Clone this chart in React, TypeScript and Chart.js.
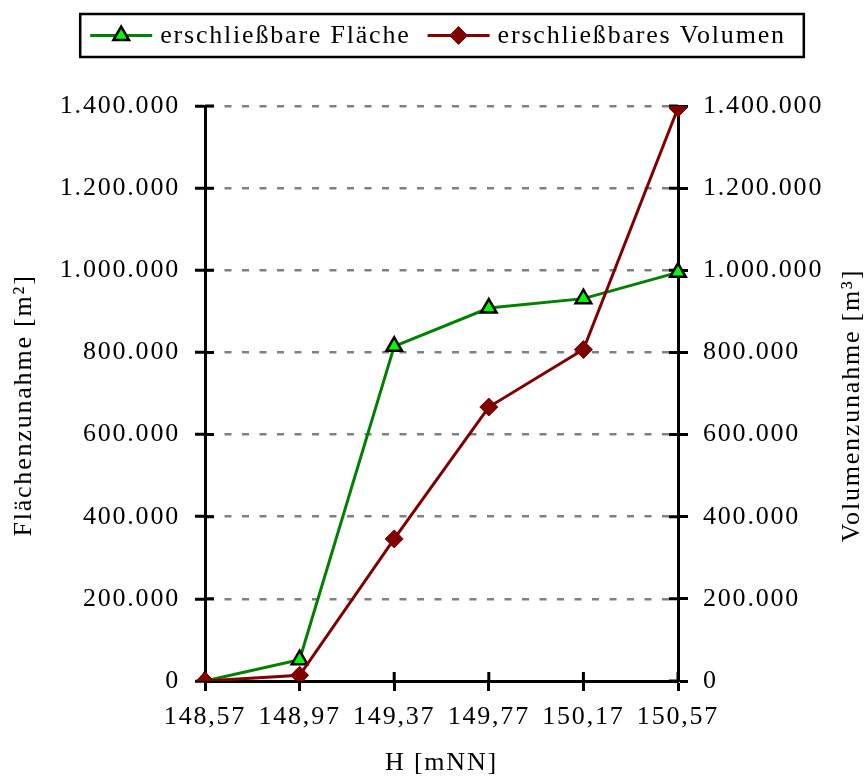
import React, { useEffect, useRef } from "react";
import { Chart, registerables } from "chart.js";

Chart.register(...registerables);

const categories = ["148,57", "148,97", "149,37", "149,77", "150,17", "150,57"];
const flaecheValues = [0, 52000, 815000, 908000, 931000, 995000];
const volumenValues = [0, 14000, 346000, 667000, 807000, 1395000];
const yTickValues = [0, 200000, 400000, 600000, 800000, 1000000, 1200000, 1400000];

const FLAECHE_LABEL = "erschließbare Fläche";
const VOLUMEN_LABEL = "erschließbares Volumen";
const LEFT_TITLE = "Flächenzunahme [m²]";
const RIGHT_TITLE = "Volumenzunahme [m³]";
const X_TITLE = "H [mNN]";

const FONT = "'Liberation Serif', 'Times New Roman', serif";
const LS = "1.8px";

const fmt = (v: number) =>
  String(Math.round(v)).replace(/\B(?=(\d{3})+(?!\d))/g, ".");

const spacingPlugin = {
  id: "spacing",
  beforeInit(chart: any) {
    chart.ctx.letterSpacing = LS;
  },
  beforeUpdate(chart: any) {
    chart.ctx.letterSpacing = LS;
  },
  beforeLayout(chart: any) {
    chart.ctx.letterSpacing = LS;
  },
  beforeDraw(chart: any) {
    chart.ctx.letterSpacing = LS;
  },
};

const innerTicksPlugin = {
  id: "innerTicks",
  beforeDatasetsDraw(chart: any) {
    const { ctx, chartArea } = chart;
    const y = chart.scales.y;
    const x = chart.scales.x;
    const len = 9;
    ctx.save();
    ctx.strokeStyle = "#000";
    ctx.lineWidth = 3;
    ctx.setLineDash([]);
    ctx.beginPath();
    y.ticks.forEach((t: any) => {
      const py = y.getPixelForValue(t.value);
      ctx.moveTo(chartArea.left, py);
      ctx.lineTo(chartArea.left + len, py);
      ctx.moveTo(chartArea.right - len, py);
      ctx.lineTo(chartArea.right, py);
    });
    x.ticks.forEach((_t: any, i: number) => {
      const px = x.getPixelForTick(i);
      ctx.moveTo(px, chartArea.bottom - len);
      ctx.lineTo(px, chartArea.bottom);
    });
    ctx.stroke();
    ctx.restore();
  },
};

function drawMarker(ctx: CanvasRenderingContext2D, style: string, x: number, y: number, r: number) {
  ctx.beginPath();
  if (style === "triangle") {
    let rad = 0;
    ctx.moveTo(x + Math.sin(rad) * r, y - Math.cos(rad) * r);
    rad += (2 * Math.PI) / 3;
    ctx.lineTo(x + Math.sin(rad) * r, y - Math.cos(rad) * r);
    rad += (2 * Math.PI) / 3;
    ctx.lineTo(x + Math.sin(rad) * r, y - Math.cos(rad) * r);
    ctx.closePath();
  } else {
    ctx.moveTo(x, y - r);
    ctx.lineTo(x + r, y);
    ctx.lineTo(x, y + r);
    ctx.lineTo(x - r, y);
    ctx.closePath();
  }
  ctx.fill();
  ctx.stroke();
}

const legendTitlePlugin = {
  id: "customLegend",
  afterDraw(chart: any) {
    const { ctx, chartArea } = chart;
    ctx.save();
    ctx.letterSpacing = LS;
    ctx.font = `26px ${FONT}`;
    ctx.fillStyle = "#000";

    // vertical axis titles (both read bottom to top)
    const cy = (chartArea.top + chartArea.bottom) / 2 + 12;
    [
      { text: LEFT_TITLE, x: 24 },
      { text: RIGHT_TITLE, x: 852 },
    ].forEach((t) => {
      ctx.save();
      ctx.translate(t.x, cy);
      ctx.rotate(-Math.PI / 2);
      ctx.textAlign = "center";
      ctx.textBaseline = "middle";
      ctx.fillText(t.text, 0, 0);
      ctx.restore();
    });

    // legend
    const items = chart.data.datasets
      .map((d: any) => d)
      .sort((a: any, b: any) => a.legendIndex - b.legendIndex);
    const lineLen = 62;
    const gapText = 8;
    const gapItem = 17;
    const padL = 10;
    const padR = 18;
    const widths = items.map((d: any) => ctx.measureText(d.label).width);
    let total = padL + padR;
    items.forEach((_d: any, i: number) => {
      total += lineLen + gapText + widths[i];
      if (i < items.length - 1) total += gapItem;
    });
    const centerX = (chartArea.left + chartArea.right) / 2 + 0.5;
    const left = centerX - total / 2;
    const top = 14;
    const h = 43;
    ctx.lineWidth = 2.5;
    ctx.strokeStyle = "#000";
    ctx.strokeRect(left, top, total, h);
    const my = top + h / 2;
    let cx = left + padL;
    items.forEach((d: any, i: number) => {
      ctx.beginPath();
      ctx.strokeStyle = d.borderColor;
      ctx.lineWidth = d.borderWidth;
      ctx.moveTo(cx, my);
      ctx.lineTo(cx + lineLen, my);
      ctx.stroke();
      ctx.fillStyle = d.pointBackgroundColor;
      ctx.strokeStyle = d.pointBorderColor;
      ctx.lineWidth = d.pointBorderWidth;
      drawMarker(ctx, d.pointStyle, cx + lineLen / 2, my, d.pointRadius);
      cx += lineLen + gapText;
      ctx.fillStyle = "#000";
      ctx.textAlign = "left";
      ctx.textBaseline = "middle";
      ctx.fillText(d.label, cx, my + 1);
      cx += widths[i] + gapItem;
    });
    ctx.restore();
  },
};

export default function App() {
  const ref = useRef<HTMLCanvasElement | null>(null);

  useEffect(() => {
    if (!ref.current) return;
    Chart.defaults.font.family = FONT;
    Chart.defaults.font.size = 26;
    Chart.defaults.color = "#000";

    const chart = new Chart(ref.current, {
      type: "line",
      data: {
        labels: categories,
        datasets: [
          {
            label: FLAECHE_LABEL,
            data: flaecheValues,
            yAxisID: "y",
            borderColor: "#008000",
            borderWidth: 3,
            backgroundColor: "#00ff00",
            pointStyle: "triangle",
            pointRadius: 9,
            pointBackgroundColor: "#00ff00",
            pointBorderColor: "#000",
            pointBorderWidth: 2.5,
            order: 2,
            legendIndex: 0,
          } as any,
          {
            label: VOLUMEN_LABEL,
            data: volumenValues,
            yAxisID: "y1",
            borderColor: "#800000",
            borderWidth: 3,
            backgroundColor: "#800000",
            pointStyle: "rectRot",
            pointRadius: 9,
            pointBackgroundColor: "#800000",
            pointBorderColor: "#800000",
            pointBorderWidth: 1,
            order: 1,
            legendIndex: 1,
          } as any,
        ],
      },
      options: {
        animation: false,
        responsive: false,
        devicePixelRatio: 1,
        layout: { padding: { top: 106, left: 0, right: 0, bottom: 0 } },
        plugins: {
          legend: { display: false },
          tooltip: { enabled: false },
        },
        elements: { line: { tension: 0 } },
        scales: {
          x: {
            type: "category",
            offset: false,
            grid: {
              display: true,
              drawOnChartArea: false,
              drawTicks: true,
              tickLength: 10,
              tickColor: "#000",
              tickWidth: 3,
              offset: false,
            },
            border: { display: true, color: "#000", width: 3 },
            ticks: { padding: 11, maxRotation: 0, autoSkip: false, color: "#000", font: { size: 26 } },
            title: {
              display: true,
              text: X_TITLE,
              font: { size: 26, lineHeight: 1 },
              padding: { top: 0, bottom: 0 },
              color: "#000",
            },
            afterFit(scale: any) {
              scale.height = 95;
            },
          },
          y: {
            type: "linear",
            position: "left",
            min: 0,
            max: 1400000,
            afterBuildTicks(scale: any) {
              scale.ticks = yTickValues.map((v) => ({ value: v }));
            },
            ticks: {
              padding: 15,
              color: "#000",
              font: { size: 26 },
              callback: (v: any) => fmt(Number(v)),
            },
            grid: {
              drawOnChartArea: true,
              drawTicks: true,
              tickLength: 10,
              tickColor: "#000",
              tickWidth: 3,
              tickBorderDash: [],
              color: (c: any) => (c.tick && c.tick.value === 0 ? "rgba(0,0,0,0)" : "#808080"),
              lineWidth: 2.5,
            } as any,
            border: { display: true, color: "#000", width: 3, dash: [7, 10.5] } as any,
            afterFit(scale: any) {
              scale.width = 205;
            },
          },
          y1: {
            type: "linear",
            position: "right",
            min: 0,
            max: 1400000,
            afterBuildTicks(scale: any) {
              scale.ticks = yTickValues.map((v) => ({ value: v }));
            },
            ticks: {
              padding: 15,
              color: "#000",
              font: { size: 26 },
              callback: (v: any) => fmt(Number(v)),
            },
            grid: {
              drawOnChartArea: false,
              drawTicks: true,
              tickLength: 10,
              tickColor: "#000",
              tickWidth: 3,
            },
            border: { display: true, color: "#000", width: 3 },
            afterFit(scale: any) {
              scale.width = 187;
            },
          },
        },
      },
      plugins: [spacingPlugin, innerTicksPlugin, legendTitlePlugin],
    });

    return () => chart.destroy();
  }, []);

  return (
    <div style={{ position: "absolute", left: 0, top: 0, width: 865, height: 776 }}>
      <canvas ref={ref} width={865} height={776} style={{ display: "block" }} />
    </div>
  );
}
